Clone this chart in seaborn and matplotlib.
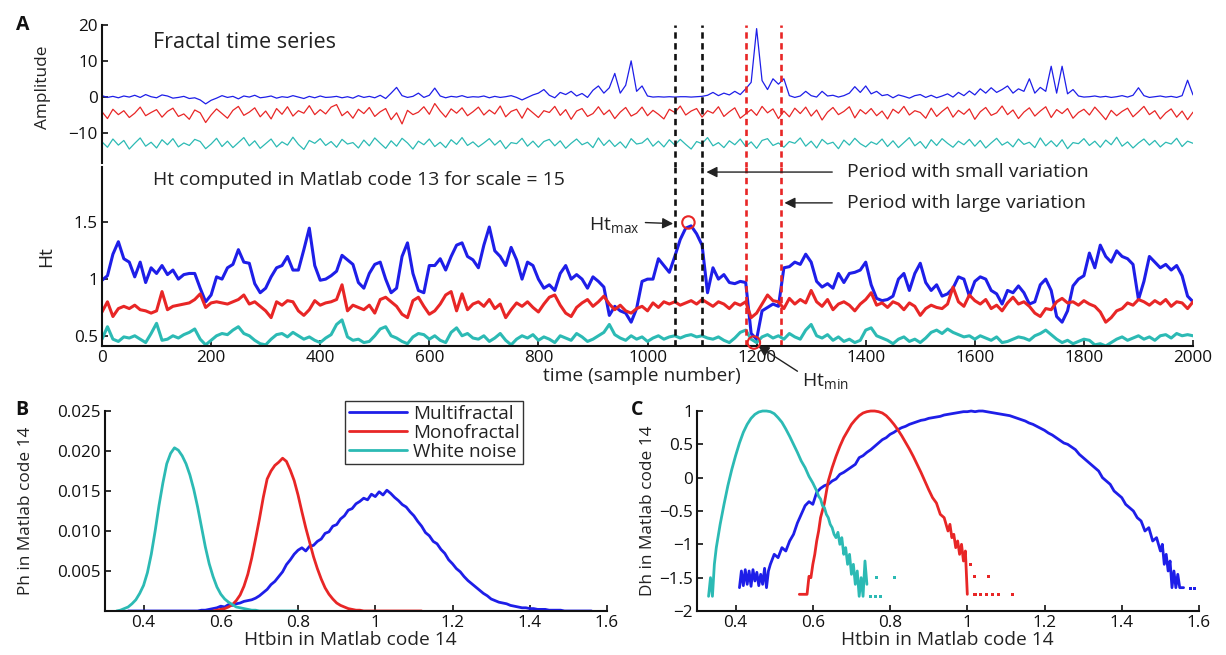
import numpy as np
import pandas as pd
import matplotlib
matplotlib.use("Agg")
import matplotlib.pyplot as plt
import seaborn as sns

BLUE = "#1e1ee8"
RED = "#e82626"
CYAN = "#2cbab4"

# ---------------- data ----------------
series_names = ["Multifractal", "Monofractal", "White noise"]
t_samples = list(range(0, 2001, 10))

amp_multi = [
    0.3, -0.2, 0.1, -0.3, 0.2, -0.1, 0.4, -0.2, 0.6, 0.0,
    -0.3, 0.5, 0.2, -0.4, -0.2, 0.1, -0.5, -0.3, -0.9, -2.0,
    -1.0, -0.4, 0.3, -0.2, 0.1, -0.6, 0.2, -0.1, 0.4, -0.3,
    -0.1, 0.2, -0.4, 0.0, -0.2, 0.3, -0.1, -0.5, 0.1, -0.3,
    0.2, -0.2, -0.1, 0.1, -0.3, 0.0, -0.4, 0.3, -0.2, 0.1,
    -0.3, 0.4, -0.5, 1.0, 2.6, 0.3, -0.2, 0.1, 1.0, -0.2,
    0.4, 2.4, 0.2, -0.3, 0.1, -0.1, 0.3, -0.2, 0.0, -0.1,
    0.2, -0.3, 0.1, -0.2, 0.0, 0.3, -0.2, -0.9, -0.2, 0.5,
    1.0, 2.0, 0.4, -0.3, 1.2, 0.6, 1.5, 0.2, 0.9, -0.2,
    1.8, 3.0, 1.0, 2.5, 6.5, 1.0, 3.2, 10.0, 1.5, 3.0,
    0.2, -0.1, 0.0, -0.1, 0.0, -0.1, 0.0, 0.0, -0.1, 0.0,
    0.1, 0.4, 1.2, 0.3, 1.0, 0.5, 1.5, 0.6, 2.2, 4.0,
    19.0, 4.5, 2.0, 5.0, 3.5, 5.0, 0.3, -0.2, 0.2, 1.5,
    0.3, -0.1, 1.5, 0.2, 0.4, -0.1, 0.3, 1.0, 2.8, 1.2,
    3.0, 0.8, 1.5, 0.3, 0.6, -0.3, 0.5, 0.1, -0.4, 0.3,
    0.6, -0.2, 0.4, -0.3, 0.2, 0.8, -0.1, 1.2, 0.3, 1.6,
    0.5, 2.2, 1.0, 2.5, 1.2, 2.0, 3.0, 1.0, 2.2, 1.5,
    5.0, 1.0, 2.6, 1.5, 8.5, 1.0, 8.5, 0.8, 2.0, 0.2,
    -0.1, 0.0, 0.2, -0.1, 0.1, -0.2, 0.0, 0.3, -0.1, 0.4,
    2.5, 0.3, -0.2, 0.0, 0.2, -0.1, 0.1, -0.2, 0.3, 4.6,
    0.5,
]
amp_mono = [
    -4.2, -6.1, -3.5, -5.0, -3.9, -5.8, -4.6, -2.9, -5.3, -4.4,
    -3.6, -5.7, -4.1, -3.2, -5.5, -4.8, -6.3, -3.7, -4.5, -7.2,
    -5.1, -3.4, -4.7, -6.0, -3.8, -2.7, -5.2, -4.3, -3.1, -5.6,
    -4.0, -6.2, -3.3, -4.9, -2.8, -5.4, -3.9, -4.6, -2.5, -5.0,
    -3.6, -4.8, -2.9, -2.2, -5.3, -4.1, -6.0, -3.5, -4.7, -3.0,
    -5.5, -4.2, -3.3, -6.4, -4.5, -7.6, -3.8, -5.0, -4.3, -2.8,
    -4.9, -1.9, -4.0, -5.7, -3.4, -4.6, -3.1, -5.3, -4.2, -2.9,
    -5.1, -3.7, -4.8, -2.6, -5.6, -4.1, -3.5, -6.0, -3.2, -4.5,
    -5.8, -3.9, -4.4, -2.7, -5.2, -3.6, -6.3, -4.0, -3.3, -5.5,
    -4.7, -2.8, -5.0, -3.7, -6.1, -4.3, -3.0, -5.4, -4.6, -2.9,
    -5.3, -3.8, -4.9, -6.2, -3.5, -4.4, -2.6, -5.1, -4.0, -3.3,
    -5.7, -3.9, -4.6, -2.8, -5.5, -4.2, -3.1, -6.0, -4.8, -3.6,
    -5.2, -2.7, -4.5, -3.4, -6.1, -4.0, -5.6, -3.2, -4.7, -2.9,
    -5.4, -3.7, -6.5, -4.3, -3.0, -5.0, -4.1, -2.8, -5.9, -3.6,
    -4.8, -3.3, -5.3, -4.0, -6.2, -3.5, -4.6, -2.7, -5.1, -3.9,
    -4.4, -6.0, -3.2, -5.5, -4.1, -2.9, -5.7, -3.8, -4.9, -3.4,
    -6.3, -4.2, -3.0, -5.2, -4.5, -2.6, -5.0, -3.7, -6.1, -4.3,
    -3.1, -5.4, -4.0, -2.8, -5.8, -3.6, -4.7, -3.3, -6.0, -4.4,
    -3.5, -5.1, -2.9, -4.6, -6.4, -3.8, -5.3, -4.1, -3.2, -5.6,
    -4.2, -2.7, -5.0, -3.9, -6.2, -4.5, -3.4, -5.7, -4.0, -6.4,
    -4.3,
]
amp_white = [
    -12.6, -14.1, -11.8, -13.5, -12.2, -14.6, -13.0, -11.5, -13.8, -12.7,
    -14.3, -12.0, -13.4, -11.7, -14.0, -12.9, -13.6, -11.9, -12.5, -14.5,
    -13.2, -11.6, -13.9, -12.4, -14.2, -12.8, -11.4, -13.7, -12.3, -14.4,
    -13.1, -11.8, -14.0, -12.6, -13.5, -11.3, -13.3, -14.7, -12.2, -13.0,
    -11.7, -13.6, -12.5, -14.1, -11.9, -13.2, -12.8, -14.3, -12.1, -13.7,
    -11.5, -13.0, -14.4, -12.3, -13.8, -11.6, -12.9, -14.6, -12.4, -13.4,
    -11.8, -13.9, -12.7, -14.2, -12.0, -13.3, -11.4, -13.6, -12.6, -14.0,
    -12.9, -11.7, -13.5, -12.2, -14.5, -12.8, -13.1, -11.6, -13.8, -12.4,
    -14.1, -12.5, -11.9, -13.7, -12.3, -14.4, -13.0, -11.8, -13.4, -12.7,
    -14.2, -11.5, -13.6, -12.1, -13.9, -12.6, -14.3, -11.7, -13.2, -12.9,
    -11.6, -13.8, -12.4, -14.0, -12.0, -13.5, -11.9, -13.3, -14.6, -12.5,
    -13.1, -11.4, -13.7, -12.8, -14.2, -12.3, -13.4, -11.8, -13.9, -12.6,
    -14.4, -12.2, -11.7, -13.6, -12.9, -14.1, -12.5, -13.0, -11.5, -13.8,
    -12.4, -14.3, -11.9, -13.2, -12.7, -14.5, -12.1, -13.5, -11.6, -13.1,
    -14.0, -12.6, -13.3, -11.8, -13.9, -12.3, -14.2, -12.8, -11.4, -13.7,
    -12.5, -14.4, -12.0, -13.6, -11.7, -13.0, -14.1, -12.4, -13.4, -11.9,
    -13.8, -12.2, -14.3, -12.9, -11.6, -13.5, -12.6, -14.0, -11.8, -13.3,
    -12.7, -14.2, -11.5, -13.7, -12.3, -13.9, -12.0, -14.5, -12.8, -13.1,
    -11.7, -13.6, -12.4, -14.1, -12.1, -13.4, -11.3, -13.8, -12.6, -14.3,
    -12.9, -11.8, -13.5, -12.2, -14.0, -12.7, -13.2, -11.6, -13.9, -12.4,
    -13.0,
]

ht_multi = [
    0.99, 1.03, 1.22, 1.33, 1.18, 1.15, 1.02, 1.15, 0.97, 1.10,
    1.05, 1.12, 1.04, 1.08, 1.00, 1.04, 1.05, 1.05, 0.92, 0.80,
    0.86, 1.02, 1.00, 1.10, 1.13, 1.26, 1.15, 1.14, 0.96, 0.88,
    0.92, 1.02, 1.10, 1.12, 1.20, 1.08, 1.08, 1.26, 1.45, 1.12,
    0.99, 1.00, 1.03, 1.07, 1.21, 1.17, 1.13, 0.97, 0.92, 1.05,
    1.13, 1.15, 1.00, 0.88, 0.92, 1.20, 1.32, 1.05, 0.90, 0.88,
    1.12, 1.12, 1.18, 1.08, 1.20, 1.30, 1.32, 1.20, 1.17, 1.10,
    1.30, 1.46, 1.25, 1.20, 1.12, 1.28, 1.17, 1.00, 1.15, 1.12,
    1.00, 0.92, 0.95, 0.90, 1.05, 1.12, 1.00, 1.04, 1.00, 0.92,
    1.02, 0.98, 0.93, 0.68, 0.76, 0.72, 0.70, 0.62, 0.74, 0.98,
    1.00, 1.00, 1.18, 1.12, 1.06, 1.20, 1.35, 1.45, 1.47, 1.40,
    1.30, 0.88, 1.10, 1.00, 1.04, 0.97, 0.96, 0.98, 0.97, 0.52,
    0.47, 0.72, 0.75, 0.78, 0.76, 1.10, 1.11, 1.15, 1.13, 1.22,
    1.15, 0.98, 0.93, 0.96, 0.92, 1.05, 0.97, 1.05, 1.06, 1.08,
    1.15, 0.95, 0.83, 0.81, 0.82, 0.85, 1.00, 1.05, 0.90, 1.05,
    1.14, 0.97, 0.90, 0.95, 0.85, 0.87, 0.92, 1.02, 1.00, 0.85,
    0.98, 1.02, 1.00, 0.90, 0.87, 0.78, 0.90, 0.88, 0.94, 0.88,
    0.78, 0.80, 0.95, 1.00, 0.90, 0.67, 0.62, 0.72, 0.94, 1.00,
    1.03, 1.23, 1.10, 1.30, 1.20, 1.15, 1.25, 1.20, 1.18, 1.13,
    0.82, 0.98, 1.20, 1.15, 1.10, 1.13, 1.08, 1.12, 1.03, 0.85,
    0.80,
]
ht_mono = [
    0.71, 0.80, 0.67, 0.74, 0.76, 0.74, 0.77, 0.73, 0.72, 0.70,
    0.72, 0.89, 0.73, 0.76, 0.77, 0.78, 0.79, 0.82, 0.87, 0.75,
    0.79, 0.80, 0.79, 0.78, 0.80, 0.82, 0.86, 0.78, 0.80, 0.76,
    0.72, 0.66, 0.80, 0.77, 0.81, 0.80, 0.72, 0.68, 0.73, 0.81,
    0.77, 0.79, 0.80, 0.82, 0.95, 0.72, 0.77, 0.75, 0.73, 0.77,
    0.70, 0.82, 0.84, 0.80, 0.76, 0.69, 0.66, 0.81, 0.84, 0.76,
    0.69, 0.72, 0.78, 0.86, 0.89, 0.72, 0.87, 0.73, 0.78, 0.80,
    0.76, 0.82, 0.74, 0.78, 0.66, 0.73, 0.79, 0.76, 0.80, 0.75,
    0.71, 0.78, 0.84, 0.86, 0.77, 0.70, 0.67, 0.75, 0.79, 0.82,
    0.76, 0.80, 0.85, 0.78, 0.73, 0.77, 0.72, 0.70, 0.74, 0.76,
    0.72, 0.79, 0.75, 0.80, 0.78, 0.80, 0.77, 0.79, 0.81, 0.78,
    0.82, 0.79, 0.76, 0.80, 0.78, 0.74, 0.79, 0.77, 0.80, 0.66,
    0.70, 0.78, 0.86, 0.81, 0.80, 0.74, 0.83, 0.78, 0.82, 0.79,
    0.90, 0.80, 0.76, 0.82, 0.73, 0.78, 0.80, 0.77, 0.72, 0.78,
    0.82, 0.88, 0.77, 0.79, 0.75, 0.80, 0.78, 0.73, 0.79, 0.76,
    0.68, 0.74, 0.77, 0.75, 0.74, 0.78, 0.93, 0.80, 0.76, 0.86,
    0.81, 0.78, 0.82, 0.74, 0.77, 0.72, 0.79, 0.84, 0.78, 0.80,
    0.76, 0.70, 0.67, 0.74, 0.73, 0.80, 0.83, 0.79, 0.80, 0.77,
    0.81, 0.78, 0.76, 0.71, 0.62, 0.66, 0.72, 0.74, 0.79, 0.77,
    0.82, 0.80, 0.77, 0.81, 0.78, 0.82, 0.76, 0.80, 0.79, 0.74,
    0.80,
]
ht_white = [
    0.47, 0.58, 0.47, 0.45, 0.49, 0.48, 0.50, 0.47, 0.44, 0.52,
    0.61, 0.46, 0.47, 0.50, 0.48, 0.51, 0.53, 0.56, 0.47, 0.42,
    0.46, 0.50, 0.52, 0.51, 0.55, 0.58, 0.52, 0.50, 0.46, 0.43,
    0.42, 0.47, 0.51, 0.52, 0.49, 0.53, 0.50, 0.47, 0.49, 0.46,
    0.44, 0.48, 0.51, 0.60, 0.64, 0.49, 0.46, 0.47, 0.44, 0.45,
    0.50, 0.56, 0.58, 0.50, 0.48, 0.45, 0.43, 0.49, 0.52, 0.51,
    0.47, 0.50, 0.46, 0.44, 0.53, 0.57, 0.50, 0.52, 0.48, 0.47,
    0.50, 0.45, 0.48, 0.52, 0.46, 0.42, 0.47, 0.50, 0.48, 0.51,
    0.46, 0.49, 0.47, 0.44, 0.50, 0.48, 0.46, 0.52, 0.49, 0.45,
    0.47, 0.50, 0.53, 0.60, 0.51, 0.48, 0.46, 0.50, 0.47, 0.49,
    0.45, 0.48, 0.50, 0.47, 0.49, 0.50, 0.48, 0.50, 0.51, 0.49,
    0.50, 0.48, 0.47, 0.49, 0.46, 0.44, 0.48, 0.53, 0.55, 0.47,
    0.44, 0.49, 0.51, 0.48, 0.50, 0.47, 0.52, 0.49, 0.47, 0.55,
    0.60, 0.50, 0.48, 0.51, 0.46, 0.49, 0.45, 0.47, 0.44, 0.46,
    0.55, 0.57, 0.50, 0.48, 0.46, 0.43, 0.47, 0.49, 0.45, 0.47,
    0.44, 0.48, 0.53, 0.55, 0.52, 0.56, 0.53, 0.51, 0.49, 0.50,
    0.47, 0.50, 0.48, 0.46, 0.49, 0.44, 0.45, 0.47, 0.49, 0.48,
    0.46, 0.50, 0.52, 0.55, 0.51, 0.47, 0.44, 0.46, 0.43, 0.45,
    0.47, 0.46, 0.42, 0.43, 0.41, 0.44, 0.47, 0.49, 0.46, 0.48,
    0.50, 0.47, 0.49, 0.46, 0.50, 0.51, 0.48, 0.52, 0.50, 0.51,
    0.50,
]

# Ht extremes (sample, Ht) and period markers
ht_extreme_t = [1075, 1195]
ht_extreme_v = [1.50, 0.44]
small_var_bounds = [1050, 1100]
large_var_bounds = [1180, 1245]

# Panel B: histograms Ph(Htbin)
phb_multi_x = [0.36, 0.54, 0.55, 0.56, 0.57, 0.58, 0.59, 0.60, 0.61, 0.62, 0.63, 0.64, 0.65, 0.66,
               0.67, 0.68, 0.69, 0.70, 0.71, 0.72, 0.73, 0.74, 0.75, 0.76, 0.77, 0.78, 0.79,
               0.80, 0.81, 0.82, 0.83, 0.84, 0.85, 0.86, 0.87, 0.88, 0.89, 0.90, 0.91, 0.92,
               0.93, 0.94, 0.95, 0.96, 0.97, 0.98, 0.99, 1.00, 1.01, 1.02, 1.03, 1.04, 1.05,
               1.06, 1.07, 1.08, 1.09, 1.10, 1.11, 1.12, 1.13, 1.14, 1.15, 1.16, 1.17, 1.18,
               1.19, 1.20, 1.21, 1.22, 1.23, 1.24, 1.25, 1.26, 1.27, 1.28, 1.29, 1.30, 1.31,
               1.32, 1.33, 1.34, 1.35, 1.36, 1.37, 1.38, 1.39, 1.40, 1.41, 1.42, 1.43, 1.44,
               1.45, 1.46, 1.47, 1.48, 1.49, 1.50, 1.56]
phb_multi_y = [0.0, 0.0, 0.0001, 0.0001, 0.0002, 0.0003, 0.0004, 0.0006, 0.0005, 0.0008, 0.0007,
               0.0009, 0.0010, 0.0012, 0.0013, 0.0014, 0.0016, 0.0019, 0.0023, 0.0027, 0.0033,
               0.0037, 0.0043, 0.0049, 0.0058, 0.0064, 0.0071, 0.0076, 0.0079, 0.0075, 0.0081,
               0.0082, 0.0087, 0.0090, 0.0097, 0.0099, 0.0106, 0.0108, 0.0115, 0.0119, 0.0126,
               0.0128, 0.0134, 0.0137, 0.0141, 0.0139, 0.0146, 0.0143, 0.0149, 0.0145, 0.0151,
               0.0147, 0.0142, 0.0138, 0.0133, 0.0130, 0.0124, 0.0119, 0.0112, 0.0106, 0.0098,
               0.0094, 0.0087, 0.0084, 0.0077, 0.0072, 0.0064, 0.0059, 0.0053, 0.0049, 0.0043,
               0.0038, 0.0034, 0.0030, 0.0026, 0.0022, 0.0019, 0.0015, 0.0013, 0.0011, 0.0010,
               0.0009, 0.0007, 0.0006, 0.0005, 0.0004, 0.0004, 0.0003, 0.0003, 0.0002, 0.0002,
               0.0002, 0.0001, 0.0001, 0.0001, 0.0001, 0.0, 0.0, 0.0]
phb_mono_x = [0.58, 0.59, 0.60, 0.61, 0.62, 0.63, 0.64, 0.65, 0.66, 0.67, 0.68, 0.69, 0.70, 0.71,
              0.72, 0.73, 0.74, 0.75, 0.76, 0.77, 0.78, 0.79, 0.80, 0.81, 0.82, 0.83, 0.84,
              0.85, 0.86, 0.87, 0.88, 0.89, 0.90, 0.91, 0.92, 0.93, 0.94, 0.95, 0.96, 0.97, 1.12]
phb_mono_y = [0.0, 0.0001, 0.0002, 0.0003, 0.0005, 0.0008, 0.0013, 0.0020, 0.0031, 0.0046, 0.0066,
              0.0090, 0.0115, 0.0142, 0.0165, 0.0175, 0.0182, 0.0186, 0.0191, 0.0187, 0.0176,
              0.0163, 0.0145, 0.0124, 0.0104, 0.0086, 0.0068, 0.0053, 0.0040, 0.0029, 0.0021,
              0.0015, 0.0010, 0.0007, 0.0005, 0.0003, 0.0002, 0.0001, 0.0001, 0.0, 0.0]
phb_white_x = [0.33, 0.34, 0.35, 0.36, 0.37, 0.38, 0.39, 0.40, 0.41, 0.42, 0.43, 0.44, 0.45, 0.46,
               0.47, 0.48, 0.49, 0.50, 0.51, 0.52, 0.53, 0.54, 0.55, 0.56, 0.57, 0.58, 0.59,
               0.60, 0.61, 0.62, 0.63, 0.64, 0.65, 0.66, 0.67, 0.68, 0.69, 0.70, 0.80]
phb_white_y = [0.0, 0.0001, 0.0003, 0.0005, 0.0009, 0.0014, 0.0022, 0.0032, 0.0048, 0.0071, 0.0100,
               0.0132, 0.0160, 0.0184, 0.0197, 0.0204, 0.0201, 0.0194, 0.0184, 0.0170, 0.0152,
               0.0130, 0.0105, 0.0080, 0.0059, 0.0043, 0.0030, 0.0021, 0.0015, 0.0011, 0.0008,
               0.0005, 0.0004, 0.0003, 0.0002, 0.0001, 0.0001, 0.0, 0.0]

# Panel C: multifractal spectra Dh(Htbin)
dh_multi_x = [0.41, 0.415, 0.42, 0.425, 0.43, 0.435, 0.44, 0.445, 0.45, 0.455, 0.46, 0.465, 0.47,
              0.475, 0.48, 0.485, 0.49, 0.50, 0.51, 0.52, 0.53, 0.54, 0.55, 0.56, 0.57, 0.58,
              0.59, 0.60, 0.61, 0.62, 0.63, 0.64, 0.65, 0.66, 0.67, 0.68, 0.69, 0.70, 0.71,
              0.72, 0.73, 0.74, 0.75, 0.76, 0.77, 0.78, 0.79, 0.80, 0.81, 0.82, 0.83, 0.84,
              0.85, 0.86, 0.87, 0.88, 0.89, 0.90, 0.91, 0.92, 0.93, 0.94, 0.95, 0.96, 0.97,
              0.98, 0.99, 1.00, 1.01, 1.02, 1.03, 1.04, 1.05, 1.06, 1.07, 1.08, 1.09, 1.10,
              1.11, 1.12, 1.13, 1.14, 1.15, 1.16, 1.17, 1.18, 1.19, 1.20, 1.21, 1.22, 1.23,
              1.24, 1.25, 1.26, 1.27, 1.28, 1.29, 1.30, 1.31, 1.32, 1.33, 1.34, 1.35, 1.36,
              1.37, 1.38, 1.39, 1.40, 1.41, 1.42, 1.43, 1.44, 1.45, 1.46, 1.47, 1.48, 1.49,
              1.50, 1.505, 1.51, 1.515, 1.52, 1.525, 1.53, 1.535, 1.54, 1.545, 1.55, 1.56]
dh_multi_y = [-1.65, -1.40, -1.62, -1.38, -1.60, -1.40, -1.63, -1.38, -1.55, -1.42, -1.62, -1.45,
              -1.60, -1.36, -1.65, -1.40, -1.30, -1.15, -1.20, -1.05, -1.10, -0.95, -0.85, -0.68,
              -0.55, -0.42, -0.36, -0.40, -0.22, -0.16, -0.12, -0.10, -0.05, -0.02, 0.05, 0.08,
              0.12, 0.16, 0.20, 0.30, 0.33, 0.38, 0.42, 0.47, 0.52, 0.57, 0.60, 0.65, 0.68,
              0.72, 0.75, 0.77, 0.80, 0.82, 0.84, 0.86, 0.87, 0.89, 0.90, 0.91, 0.92, 0.94,
              0.95, 0.96, 0.97, 0.98, 0.99, 0.99, 1.00, 0.99, 1.00, 1.00, 0.99, 0.98, 0.97,
              0.96, 0.95, 0.94, 0.93, 0.91, 0.89, 0.87, 0.85, 0.82, 0.80, 0.77, 0.74, 0.71,
              0.67, 0.64, 0.60, 0.56, 0.52, 0.50, 0.46, 0.42, 0.35, 0.30, 0.25, 0.20, 0.15,
              0.10, 0.00, -0.05, -0.10, -0.20, -0.25, -0.30, -0.40, -0.45, -0.50, -0.60,
              -0.65, -0.80, -0.75, -0.95, -0.90, -1.10, -1.00, -1.30, -1.15, -1.40, -1.25,
              -1.65, -1.40, -1.65, -1.45, -1.65, -1.65]
dh_mono_x = [0.565, 0.585, 0.59, 0.595, 0.60, 0.605, 0.61, 0.615, 0.62, 0.63, 0.64, 0.65, 0.66,
             0.67, 0.68, 0.69, 0.70, 0.71, 0.72, 0.73, 0.74, 0.75, 0.76, 0.77, 0.78, 0.79,
             0.80, 0.81, 0.82, 0.83, 0.84, 0.85, 0.86, 0.87, 0.88, 0.89, 0.90, 0.91, 0.92,
             0.93, 0.94, 0.95, 0.955, 0.96, 0.965, 0.97, 0.975, 0.98, 0.985, 0.99, 0.995, 1.0]
dh_mono_y = [-1.75, -1.75, -1.48, -1.50, -1.30, -1.15, -0.95, -0.80, -0.60, -0.38, -0.05, 0.15,
             0.32, 0.47, 0.60, 0.70, 0.80, 0.87, 0.93, 0.97, 0.99, 1.00, 1.00, 0.99, 0.97,
             0.93, 0.87, 0.80, 0.72, 0.63, 0.53, 0.43, 0.32, 0.20, 0.08, -0.05, -0.18, -0.30,
             -0.38, -0.55, -0.60, -0.80, -0.70, -0.90, -0.85, -1.05, -0.95, -1.15, -1.00,
             -1.25, -1.10, -1.75]
dh_white_x = [0.33, 0.335, 0.34, 0.345, 0.35, 0.36, 0.37, 0.38, 0.39, 0.40, 0.41, 0.42, 0.43,
              0.44, 0.45, 0.46, 0.47, 0.48, 0.49, 0.50, 0.51, 0.52, 0.53, 0.54, 0.55, 0.56,
              0.57, 0.58, 0.59, 0.60, 0.61, 0.615, 0.62, 0.625, 0.63, 0.635, 0.64, 0.645,
              0.65, 0.655, 0.66, 0.665, 0.67, 0.675, 0.68, 0.685, 0.69, 0.695, 0.70, 0.705,
              0.71, 0.715, 0.72, 0.725, 0.73, 0.735, 0.74]
dh_white_y = [-1.78, -1.50, -1.78, -1.30, -1.05, -0.70, -0.40, -0.12, 0.12, 0.33, 0.52, 0.68,
              0.80, 0.89, 0.95, 0.985, 1.00, 1.00, 0.99, 0.96, 0.90, 0.83, 0.73, 0.62, 0.50,
              0.38, 0.25, 0.15, 0.02, -0.08, -0.20, -0.28, -0.32, -0.42, -0.45, -0.55, -0.60,
              -0.70, -0.75, -0.85, -0.90, -0.82, -1.00, -0.90, -1.15, -1.05, -1.30, -1.15,
              -1.45, -1.30, -1.60, -1.40, -1.78, -1.50, -1.78, -1.25, -1.60]
# isolated points of the spectra
dots_multi_x = [1.578, 1.588]
dots_multi_y = [-1.66, -1.66]
dots_mono_x = [1.009, 1.019, 1.055, 1.02, 1.035, 1.05, 1.065, 1.08, 1.116]
dots_mono_y = [-1.30, -1.48, -1.48, -1.75, -1.75, -1.75, -1.75, -1.75, -1.75]
dots_white_x = [0.765, 0.811, 0.75, 0.762, 0.775]
dots_white_y = [-1.50, -1.50, -1.78, -1.78, -1.78]

htbin_ticks = [0.4, 0.6, 0.8, 1.0, 1.2, 1.4, 1.6]
htbin_labels = ["0.4", "0.6", "0.8", "1", "1.2", "1.4", "1.6"]
amp_ticks = [20, 10, 0, -10]
amp_labels = ["20", "10", "0", "\u221210"]
ht_ticks = [0.5, 1.0, 1.5]
ht_labels = ["0.5", "1", "1.5"]
ph_ticks = [0.005, 0.010, 0.015, 0.020, 0.025]
ph_labels = ["0.005", "0.010", "0.015", "0.020", "0.025"]
dh_ticks = [1, 0.5, 0, -0.5, -1, -1.5, -2]
dh_labels = ["1", "0.5", "0", "\u22120.5", "\u22121", "\u22121.5", "\u22122"]
time_ticks = list(range(0, 2001, 200))

# ---------------- style ----------------
sns.set_theme(style="ticks")
plt.rcParams["font.family"] = ["Open Sans", "DejaVu Sans"]
plt.rcParams["mathtext.default"] = "regular"
plt.rcParams["xtick.direction"] = "in"
plt.rcParams["ytick.direction"] = "in"
plt.rcParams["xtick.major.size"] = 4
plt.rcParams["ytick.major.size"] = 4
plt.rcParams["xtick.major.width"] = 1.2
plt.rcParams["ytick.major.width"] = 1.2
plt.rcParams["xtick.major.pad"] = 3
plt.rcParams["ytick.major.pad"] = 3
plt.rcParams["axes.linewidth"] = 1.5
plt.rcParams["axes.edgecolor"] = "#111111"
plt.rcParams["xtick.color"] = "#111111"
plt.rcParams["ytick.color"] = "#111111"
plt.rcParams["text.color"] = "#222222"
plt.rcParams["axes.labelcolor"] = "#222222"

TICK_FS = 12.3
LABEL_FS = 13.8
YLABEL_FS = 12.4
NOTE_FS = 14.0
palette = {"Multifractal": BLUE, "Monofractal": RED, "White noise": CYAN}

fig = plt.figure(figsize=(12.26, 6.55), dpi=100)
fig.patch.set_facecolor("white")
axA1 = fig.add_axes([0.0832, 0.7511, 0.8899, 0.2107])
axA2 = fig.add_axes([0.0832, 0.4718, 0.8899, 0.2733])
axB = fig.add_axes([0.0856, 0.0672, 0.4095, 0.3053])
axC = fig.add_axes([0.5685, 0.0672, 0.4095, 0.3053])

# ---------------- panel A (top): amplitude ----------------
amp_df = pd.DataFrame({"t": t_samples, "Multifractal": amp_multi,
                       "Monofractal": amp_mono, "White noise": amp_white})
amp_long = amp_df.melt(id_vars="t", var_name="series", value_name="v")
sns.lineplot(data=amp_long, x="t", y="v", hue="series", hue_order=series_names,
             palette=palette, estimator=None, lw=0.9, legend=False, ax=axA1)
axA1.set_xlim(0, 2000)
axA1.set_ylim(-18.5, 20)
for s in ["top", "right", "bottom"]:
    axA1.spines[s].set_visible(False)
axA1.set_xticks([])
axA1.set_yticks(amp_ticks)
axA1.set_yticklabels(amp_labels, fontsize=TICK_FS)
axA1.set_xlabel("")
axA1.set_ylabel("Amplitude", fontsize=YLABEL_FS)
axA1.yaxis.set_label_coords(-0.047, 0.55)
axA1.text(0.0468, 0.87, "Fractal time series", transform=axA1.transAxes,
          fontsize=15.5, va="center", ha="left")

# ---------------- panel A (bottom): Ht ----------------
ht_df = pd.DataFrame({"t": t_samples, "Multifractal": ht_multi,
                      "Monofractal": ht_mono, "White noise": ht_white})
ht_long = ht_df.melt(id_vars="t", var_name="series", value_name="v")
sns.lineplot(data=ht_long, x="t", y="v", hue="series", hue_order=series_names,
             palette=palette, estimator=None, lw=2.2, legend=False, ax=axA2)
axA2.set_xlim(0, 2000)
axA2.set_ylim(0.41, 1.99)
for s in ["top", "right"]:
    axA2.spines[s].set_visible(False)
axA2.set_xticks(time_ticks)
axA2.set_xticklabels([str(v) for v in time_ticks], fontsize=TICK_FS)
axA2.set_yticks(ht_ticks)
axA2.set_yticklabels(ht_labels, fontsize=TICK_FS)
axA2.set_xlabel("time (sample number)", fontsize=LABEL_FS)
axA2.xaxis.set_label_coords(0.495, -0.118)
axA2.set_ylabel("Ht", fontsize=LABEL_FS)
axA2.yaxis.set_label_coords(-0.043, 0.5)
axA2.text(0.0468, 0.927, "Ht computed in Matlab code 13 for scale = 15",
          transform=axA2.transAxes, fontsize=NOTE_FS, va="center", ha="left")

# period markers (dashed) spanning both panels
dash = (0, (2.4, 1.7))
for xv in small_var_bounds:
    axA1.axvline(xv, ymin=-0.035, ymax=1.0, color="#111111", lw=1.9, ls=dash, clip_on=False)
    axA2.axvline(xv, ymin=0, ymax=1.0, color="#111111", lw=1.9, ls=dash)
for xv in large_var_bounds:
    axA1.axvline(xv, ymin=-0.035, ymax=1.0, color=RED, lw=1.9, ls=dash, clip_on=False)
    axA2.axvline(xv, ymin=0, ymax=1.0, color=RED, lw=1.9, ls=dash)

# Ht extremes
sns.scatterplot(x=ht_extreme_t, y=ht_extreme_v, ax=axA2, marker="o", s=80,
                facecolor="none", edgecolor=RED, linewidth=1.5, clip_on=False, zorder=5)

arrow_kw = dict(arrowstyle="-|>", color="#222222", lw=1.0, mutation_scale=16,
                shrinkA=0, shrinkB=0)
axA2.annotate("Period with small variation", xy=(small_var_bounds[1] + 8, 1.945),
              xytext=(1365, 1.945), fontsize=NOTE_FS, va="center", ha="left",
              arrowprops=dict(arrow_kw, shrinkA=8))
axA2.annotate("Period with large variation", xy=(large_var_bounds[1] + 6, 1.673),
              xytext=(1365, 1.673), fontsize=NOTE_FS, va="center", ha="left",
              arrowprops=dict(arrow_kw, shrinkA=8))
axA2.annotate("Ht$_{max}$", xy=(small_var_bounds[0] - 3, ht_extreme_v[0] - 0.01),
              xytext=(985, 1.48), fontsize=NOTE_FS, va="center", ha="right",
              arrowprops=dict(arrow_kw, shrinkA=2, relpos=(1.0, 0.62)))
axA2.annotate("Ht$_{min}$", xy=(ht_extreme_t[1] + 8, ht_extreme_v[1] - 0.03),
              xytext=(1283, 0.10), fontsize=NOTE_FS, va="center", ha="left",
              annotation_clip=False,
              arrowprops=dict(arrow_kw, shrinkA=1, relpos=(0.0, 0.85)))

# ---------------- panel B ----------------
b_rows = []
for name, xs, ys in [("Multifractal", phb_multi_x, phb_multi_y),
                     ("Monofractal", phb_mono_x, phb_mono_y),
                     ("White noise", phb_white_x, phb_white_y)]:
    b_rows.append(pd.DataFrame({"h": xs, "p": ys, "series": name}))
b_df = pd.concat(b_rows, ignore_index=True)
sns.lineplot(data=b_df, x="h", y="p", hue="series", hue_order=series_names,
             palette=palette, estimator=None, sort=False, lw=2.0, ax=axB)
axB.set_xlim(0.3, 1.6)
axB.set_ylim(0, 0.025)
for s in ["top", "right"]:
    axB.spines[s].set_visible(False)
axB.set_xticks(htbin_ticks)
axB.set_xticklabels(htbin_labels, fontsize=TICK_FS)
axB.set_yticks(ph_ticks)
axB.set_yticklabels(ph_labels, fontsize=TICK_FS)
axB.set_xlabel("Htbin in Matlab code 14", fontsize=LABEL_FS)
axB.xaxis.set_label_coords(0.488, -0.1)
axB.set_ylabel("Ph in Matlab code 14", fontsize=YLABEL_FS)
axB.yaxis.set_label_coords(-0.142, 0.5)
leg = axB.legend(loc="upper left", bbox_to_anchor=(0.478, 1.05), frameon=True,
                 fancybox=False, edgecolor="#333333", framealpha=1.0, fontsize=13.6,
                 handlelength=3.1, borderpad=0.2, labelspacing=0.05, handletextpad=0.3,
                 borderaxespad=0.0)
leg.get_frame().set_linewidth(1.0)
for line in leg.get_lines():
    line.set_linewidth(2.0)

# ---------------- panel C ----------------
c_rows = []
for name, xs, ys in [("Multifractal", dh_multi_x, dh_multi_y),
                     ("Monofractal", dh_mono_x, dh_mono_y),
                     ("White noise", dh_white_x, dh_white_y)]:
    c_rows.append(pd.DataFrame({"h": xs, "d": ys, "series": name}))
c_df = pd.concat(c_rows, ignore_index=True)
sns.lineplot(data=c_df, x="h", y="d", hue="series", hue_order=series_names,
             palette=palette, estimator=None, sort=False, lw=2.0, legend=False, ax=axC)
for c in axC.get_lines():
    c.set_clip_on(False)
dots_rows = []
for name, xs, ys in [("Multifractal", dots_multi_x, dots_multi_y),
                     ("Monofractal", dots_mono_x, dots_mono_y),
                     ("White noise", dots_white_x, dots_white_y)]:
    dots_rows.append(pd.DataFrame({"h": xs, "d": ys, "series": name}))
dots_df = pd.concat(dots_rows, ignore_index=True)
sns.scatterplot(data=dots_df, x="h", y="d", hue="series", hue_order=series_names,
                palette=palette, marker="s", s=5, linewidth=0, legend=False, ax=axC)
axC.set_xlim(0.3, 1.6)
axC.set_ylim(-2, 1)
for s in ["top", "right"]:
    axC.spines[s].set_visible(False)
axC.set_xticks(htbin_ticks)
axC.set_xticklabels(htbin_labels, fontsize=TICK_FS)
axC.set_yticks(dh_ticks)
axC.set_yticklabels(dh_labels, fontsize=TICK_FS)
axC.set_xlabel("Htbin in Matlab code 14", fontsize=LABEL_FS)
axC.xaxis.set_label_coords(0.498, -0.1)
axC.set_ylabel("Dh in Matlab code 14", fontsize=YLABEL_FS)
axC.yaxis.set_label_coords(-0.082, 0.5)

# panel letters
for letter, (px, py) in {"A": (23, 25), "B": (22, 410), "C": (637, 410)}.items():
    fig.text(px / 1226, 1 - py / 655, letter, fontsize=14, fontweight="bold",
             ha="center", va="center", color="#111111")

fig.savefig("out.png", dpi=100, facecolor="white")
